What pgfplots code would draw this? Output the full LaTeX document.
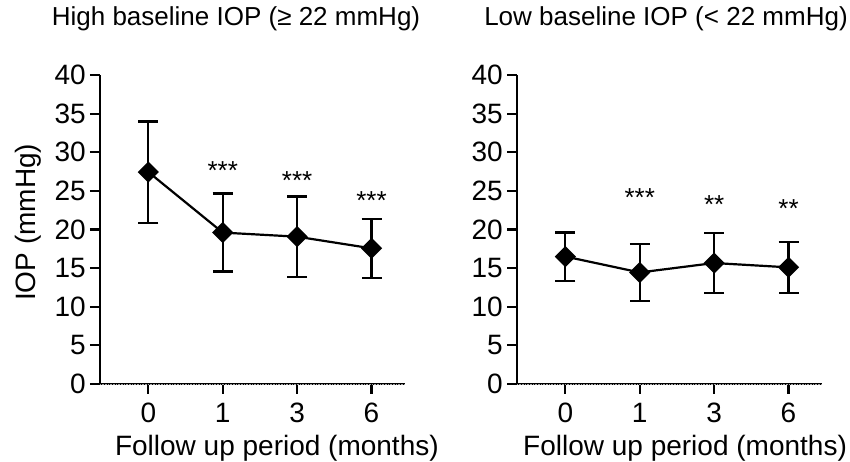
\documentclass[border=0pt]{standalone}
\usepackage{fontspec}
\setmainfont{Liberation Sans}
\usepackage{pgfplots}
\pgfplotsset{compat=1.18}

\newcommand{\largefnt}{\fontsize{28}{30}\selectfont}
\newcommand{\midfnt}{\fontsize{26}{28}\selectfont}

\pgfplotsset{
  iop/.style={
    at={(0,0)}, anchor=south west,
    scale only axis, width=305pt, height=309pt,
    xmin=-0.65, xmax=3.45, ymin=0, ymax=40,
    axis x line=bottom, axis y line=left,
    axis line style={-, line width=2.3pt},
    tick align=outside,
    major tick length=10pt,
    tick style={line width=2.2pt, black},
    xtick={0,1,2,3}, xticklabels={0,1,3,6},
    ytick={0,5,...,40},
    /pgf/number format/assume math mode=true,
    tick label style={font=\largefnt},
    xticklabel style={anchor=base, yshift=-29pt},
    yticklabel style={anchor=east, inner sep=0pt, xshift=-4pt},
    label style={font=\largefnt},
    xlabel={Follow up period (months)},
    ylabel style={at={(axis description cs:-0.213,0.523)}, anchor=base},
    title style={font=\midfnt, anchor=base},
    clip=false,
  },
  meanline/.style={
    black, line width=2.2pt,
    mark=square*, mark size=6.4pt, mark options={rotate=45, solid},
    error bars/.cd, y dir=both, y explicit,
    error bar style={line width=2.2pt},
    error mark options={rotate=90, mark size=10pt, line width=2.2pt},
  },
  stars/.style={
    draw=none, mark=none,
    nodes near coords, point meta=explicit symbolic,
    nodes near coords style={font=\midfnt, anchor=center, yshift=-4pt},
  },
  zeroline/.style={densely dotted, gray!70, line width=0.6pt, forget plot},
}

\begin{document}
\begin{tikzpicture}
\useasboundingbox (-100pt,-78pt) rectangle (750pt,384pt);

\begin{axis}[iop,
  ylabel={IOP (mmHg)},
  xlabel style={at={(axis description cs:0.580,-0.233)}, anchor=base},
  title={High baseline IOP (≥ 22 mmHg)},
  title style={at={(axis description cs:0.446,1.142)}},
]
\addplot[zeroline] coordinates {(-0.65,0) (3.45,0)};
\addplot[meanline] coordinates {
  (0,27.44) +- (0,6.55)
  (1,19.60) +- (0,5.05)
  (2,19.07) +- (0,5.20)
  (3,17.56) +- (0,3.85)
};
\addplot[stars] coordinates {
  (1,28.09) [***]
  (2,26.84) [***]
  (3,24.25) [***]
};
\end{axis}

\begin{axis}[iop, at={(417pt,0)},
  xlabel style={at={(axis description cs:0.551,-0.233)}, anchor=base},
  title={Low baseline IOP (< 22 mmHg)},
  title style={at={(axis description cs:0.4885,1.142)}},
]
\addplot[zeroline] coordinates {(-0.65,0) (3.45,0)};
\addplot[meanline] coordinates {
  (0,16.50) +- (0,3.12)
  (1,14.44) +- (0,3.72)
  (2,15.66) +- (0,3.87)
  (3,15.10) +- (0,3.27)
};
\addplot[stars] coordinates {
  (1,24.60) [***]
  (2,23.80) [**]
  (3,23.20) [**]
};
\end{axis}
\end{tikzpicture}
\end{document}
